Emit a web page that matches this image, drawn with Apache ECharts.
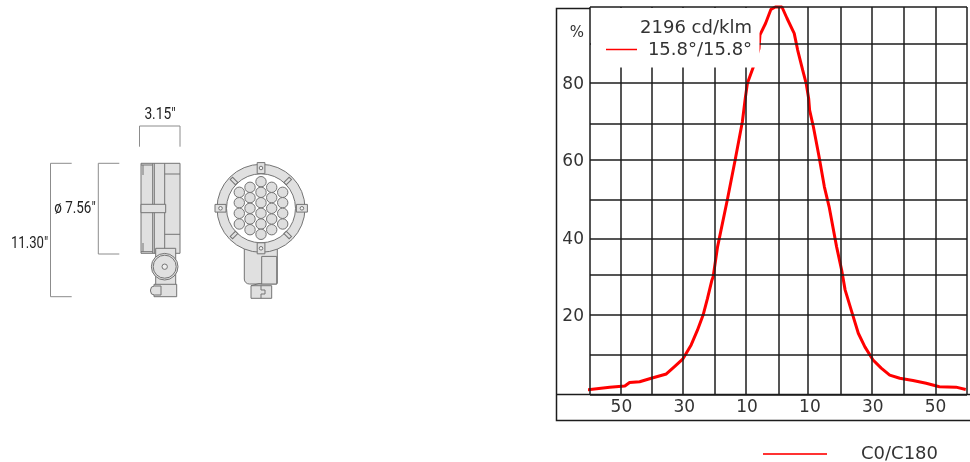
<!DOCTYPE html>
<html>
<head>
<meta charset="utf-8">
<style>html,body{margin:0;padding:0;background:#fff}#c{width:970px;height:462px}</style>
<script src="https://cdn.jsdelivr.net/npm/echarts@6/dist/echarts.min.js"></script>
</head>
<body>
<div id="c"></div>
<script>
const seriesName = 'C0/C180';
const curveDegrees = [-61.0,-53.7,-48.9,-47.4,-44.2,-40.5,-35.7,-33.1,-30.5,-27.8,-25.8,-24.0,-22.6,-21.2,-20.8,-19.4,-16.3,-13.8,-11.5,-10.5,-9.9,-8.1,-6.2,-5.9,-4.1,-2.4,-1.0,1.1,2.7,5.0,6.1,7.7,8.8,9.6,9.9,11.1,12.9,14.6,16.1,18.5,20.1,21.2,23.3,25.4,27.5,30.1,32.7,35.4,38.6,42.8,47.0,51.2,56.5,59.6];
const curvePercent = [1.2,1.9,2.2,3.1,3.3,4.2,5.3,7.2,9.1,12.8,16.6,20.5,24.8,29.5,30.4,38.1,50.2,60.5,70.4,76.9,80.3,84.3,89.3,92.8,95.8,99.4,100,100,97.1,93.2,88.9,83.7,80.3,76.4,73.4,69.1,61.4,53.6,48.5,38.1,32.1,27.0,21.4,15.8,12.3,8.9,6.8,5.0,4.2,3.6,2.9,2.0,1.9,1.3];
// Grid rules (the source rounds them unevenly)
const gridDegrees = [-60,-50.2,-40.4,-30.4,-20.2,-10.4,0.1,9.4,19.8,29.6,40.0,49.9,59.9];
const gridPercent = [100,90.4,80.4,69.9,60.6,50.3,40.2,30.9,20.6,10.2,0];
const xTickLabels = [-50,-30,-10,10,30,50];
const yTickLabels = [20,40,60,80];
const luminousText = '2196 cd/klm';
const beamText = '15.8°/15.8°';
const unitText = '%';
const widthText = '3.15"';
const diameterText = 'ø 7.56"';
const heightText = '11.30"';
const ledColumns = [
  {x:239.3, ys:[192.3,202.7,213.3,224]},
  {x:250,   ys:[187.3,197.7,208.3,219,229.7]},
  {x:261,   ys:[181.7,192.3,202.7,213.3,224,234.3]},
  {x:271.7, ys:[187.3,197.7,208.3,219,229.7]},
  {x:282.7, ys:[192.3,202.7,213.3,224]}
];

const INK = '#1c1c1c', GREY = '#747474', FILL = '#e0e0e0', DIM = '#8c8c8c';
const FONT = '"DejaVu Sans", sans-serif';
const NARROW = '"Liberation Sans Narrow", "Roboto", sans-serif';

function line(x1,y1,x2,y2,color,w,z){return {type:'line',z:z||1,shape:{x1,y1,x2,y2},style:{stroke:color,lineWidth:w,fill:null}};}
function poly(points,color,w){return {type:'polyline',z:1,shape:{points},style:{stroke:color,lineWidth:w,fill:null}};}
function rect(x,y,w,h,r,opt){return Object.assign({type:'rect',z:1,shape:{x,y,width:w,height:h,r:r||0},style:{fill:FILL,stroke:GREY,lineWidth:1}},opt||{});}
function circ(cx,cy,r,fill){return {type:'circle',z:1,shape:{cx,cy,r},style:{fill:fill||FILL,stroke:GREY,lineWidth:1}};}
function text(s,x,y,font,size,color,scaleX){return {type:'text',z:20,x,y,scaleX:scaleX||1,style:{text:s,fontFamily:font,fontSize:size,fill:color,align:'center',verticalAlign:'middle'}};}
function tabDiag(cx,cy,rot){return {type:'rect',z:1,x:cx,y:cy,rotation:rot,shape:{x:-1.7,y:-3.7,width:3.4,height:7.4},style:{fill:FILL,stroke:GREY,lineWidth:1}};}

const drawing = [
  // dimension brackets
  poly([[139.5,146.7],[139.5,126],[180,126],[180,146.7]],DIM,1),
  poly([[71.7,163.3],[50.5,163.3],[50.5,296.7],[71.7,296.7]],DIM,1),
  poly([[119.3,163.3],[98.3,163.3],[98.3,254],[119.3,254]],DIM,1),
  text(widthText,160,115,NARROW,16,'#222',0.86),
  text(diameterText,75,209,NARROW,16,'#222',0.84),
  text(heightText,29.5,244,NARROW,16,'#222',0.82),
  // side view
  rect(141,163.3,39,90),
  line(143,165,143,175,GREY,1),
  line(143,243,143,251.7,GREY,1),
  line(141,165,152.7,165,GREY,1),
  line(141,251.7,152.7,251.7,GREY,1),
  line(152.7,163.3,152.7,253.3,GREY,1),
  line(154.3,163.3,154.3,253.3,GREY,1),
  line(164.7,163.3,164.7,253.3,GREY,1),
  line(164.7,174,180,174,GREY,1),
  line(164.7,234.3,180,234.3,GREY,1),
  rect(141,204.3,24.7,8.4),
  rect(155.7,248.3,20,38),
  rect(154,284.3,22.7,12.4),
  rect(150.5,286,10.5,9,[4,0,0,4]),
  circ(164.7,266.7,13.3),
  circ(164.7,266.7,11.5),
  circ(164.7,266.7,2.7,'#eee'),
  // front view: arm
  rect(244.3,245,33,39,[0,0,1,5]),
  rect(261.7,256.4,15,27.6),
  rect(251,285.7,20.7,12.6),
  poly([[251,285.7],[259,283.6],[262,284]],GREY,1),
  poly([[261,285.7],[261,290],[265,290],[265,294],[261,294],[261,298.3]],GREY,1),
  // front view: ring
  circ(261,208.3,44),
  circ(261,208.3,34.5,'#fff'),
  rect(257.2,162.6,7.7,11),
  rect(257.2,242.8,7.7,11),
  rect(215,204.4,11,7.7),
  rect(296.4,204.4,11,7.7),
  circ(261,168,1.8,'#f4f4f4'),
  circ(261,248.3,1.8,'#f4f4f4'),
  circ(220.5,208.3,1.8,'#f4f4f4'),
  circ(301.9,208.3,1.8,'#f4f4f4'),
  tabDiag(234,181,Math.PI/4),
  tabDiag(287.7,181,-Math.PI/4),
  tabDiag(234,235,-Math.PI/4),
  tabDiag(287.7,235,Math.PI/4)
];
ledColumns.forEach(c => c.ys.forEach(y => drawing.push(circ(c.x,y,5.2,'#dedede'))));

const chartFurniture = [
  // outer frame and the strip that holds the x labels
  poly([[590,8.5],[556.5,8.5],[556.5,420.5],[970,420.5]],INK,1.5),
  line(556.5,394.5,970,394.5,INK,1.5),
  // white panel behind the luminous flux caption
  {type:'rect',z:10,shape:{x:591,y:8,width:168.5,height:59.5},style:{fill:'#fff'}},
  text(unitText,577,33,FONT,15,'#333'),
  text(luminousText,696,28,FONT,18,'#333'),
  text(beamText,700,50,FONT,18,'#333'),
  line(606,49.5,637,49.5,'#f00',1.5,20)
];

const chart = echarts.init(document.getElementById('c'),null,{renderer:'canvas',width:970,height:462});
chart.setOption({
  animation:false,
  backgroundColor:'#fff',
  grid:{left:590,top:7,width:379.5,height:387.5,containLabel:false},
  xAxis:{type:'value',min:-60,max:60,interval:10,
    axisLine:{show:false},axisTick:{show:false},splitLine:{show:false},
    axisLabel:{margin:5,interval:0,hideOverlap:false,fontFamily:FONT,fontSize:17,color:'#333',
      formatter:v=>xTickLabels.includes(v)?String(Math.abs(v)):''}},
  yAxis:{type:'value',min:0,max:100,interval:20,
    axisLine:{show:false},axisTick:{show:false},splitLine:{show:false},
    axisLabel:{margin:6,fontFamily:FONT,fontSize:17,color:'#333',padding:[0,0,3,0],
      formatter:v=>yTickLabels.includes(v)?String(v):''}},
  legend:{show:true,left:758,top:440,itemWidth:64,itemHeight:14,itemGap:34,data:[seriesName],
    icon:'path://M0 6 H64 V8 H0 Z',
    itemStyle:{color:'#f33'},
    textStyle:{fontFamily:FONT,fontSize:18,color:'#333',padding:[0,0,0,29]}},
  graphic:{elements:drawing.concat(chartFurniture)},
  series:[
    {name:'grid',type:'line',z:1,silent:true,data:[],
      markLine:{silent:true,symbol:'none',animation:false,label:{show:false},
        lineStyle:{color:INK,width:1.5,type:'solid'},
        emphasis:{disabled:true},
        data:gridDegrees.map(v=>({xAxis:v})).concat(gridPercent.map(v=>({yAxis:v})))}},
    {name:seriesName,type:'line',z:3,clip:false,symbol:'none',smooth:false,
      lineStyle:{color:'#f00',width:3},itemStyle:{color:'#f00'},
      data:curveDegrees.map((d,i)=>[d,curvePercent[i]])}
  ]
});
</script>
</body>
</html>
